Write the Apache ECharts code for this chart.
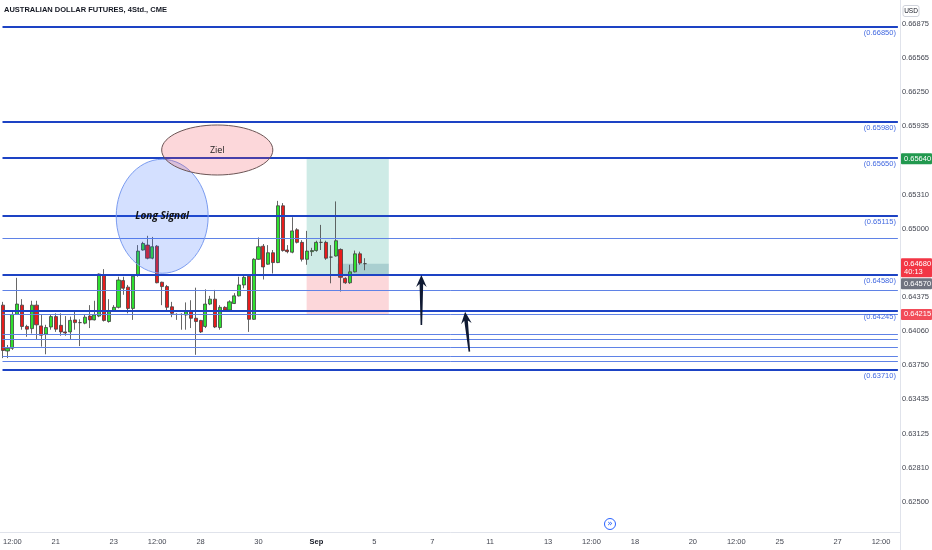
<!DOCTYPE html>
<html>
<head>
<meta charset="utf-8">
<script src="https://cdn.jsdelivr.net/npm/echarts/dist/echarts.min.js"></script>
<style>html,body{margin:0;padding:0;background:#fff}#c{width:932px;height:550px}</style>
</head>
<body>
<div id="c"></div>
<script>
const FONT = "'Liberation Sans Narrow','Arial Narrow','Liberation Sans',Arial,sans-serif";
const AXIS_COLOR = '#434651';

// ---- data ----
const opens  = [0.64300,0.63880,0.63905,0.64215,0.64300,0.64105,0.64085,0.64300,0.64110,0.64035,
                0.64100,0.64195,0.64115,0.64055,0.64055,0.64165,0.64140,0.64135,0.64200,0.64165,
                0.64200,0.64575,0.64150,0.64245,0.64280,0.64525,0.64465,0.64270,0.64575,0.64805,
                0.64850,0.64730,0.64840,0.64510,0.64470,0.64285,0.64215,0.64215,0.64210,0.64250,
                0.64180,0.64160,0.64105,0.64310,0.64355,0.64095,0.64280,0.64255,0.64315,0.64385,
                0.64485,0.64565,0.64170,0.64720,0.64840,0.64675,0.64780,0.64690,0.65210,0.64805,
                0.64785,0.64990,0.64875,0.64720,0.64790,0.64800,0.64875,0.64875,0.64740,0.64750,
                0.64810,0.64545,0.64505,0.64605,0.64770,0.64680];
const closes = [0.63885,0.63905,0.64215,0.64310,0.64105,0.64080,0.64300,0.64120,0.64025,0.64095,
                0.64195,0.64080,0.64055,0.64045,0.64160,0.64140,0.64140,0.64190,0.64165,0.64210,
                0.64585,0.64160,0.64245,0.64280,0.64530,0.64455,0.64270,0.64565,0.64795,0.64865,
                0.64730,0.64835,0.64505,0.64470,0.64280,0.64225,0.64215,0.64215,0.64240,0.64180,
                0.64150,0.64055,0.64310,0.64355,0.64100,0.64280,0.64255,0.64330,0.64385,0.64485,
                0.64555,0.64170,0.64720,0.64835,0.64650,0.64780,0.64690,0.65210,0.64800,0.64790,
                0.64980,0.64875,0.64720,0.64795,0.64800,0.64875,0.64875,0.64730,0.64740,0.64890,
                0.64555,0.64505,0.64605,0.64770,0.64685,0.64680];
const lows   = [0.63815,0.63815,0.63890,0.64215,0.64075,0.64010,0.64040,0.63990,0.63920,0.63850,
                0.64075,0.64055,0.64020,0.64020,0.63990,0.64075,0.63925,0.64125,0.64090,0.64160,
                0.64190,0.64150,0.64140,0.64240,0.64270,0.64395,0.64225,0.64165,0.64560,0.64800,
                0.64720,0.64720,0.64500,0.64300,0.64255,0.64190,0.64165,0.64075,0.64075,0.64090,
                0.63845,0.64045,0.64090,0.64300,0.64090,0.64075,0.64250,0.64240,0.64310,0.64380,
                0.64455,0.64055,0.64165,0.64715,0.64535,0.64670,0.64590,0.64685,0.64790,0.64775,
                0.64775,0.64865,0.64700,0.64670,0.64750,0.64790,0.64805,0.64715,0.64500,0.64745,
                0.64425,0.64495,0.64495,0.64600,0.64670,0.64620];
const highs  = [0.64330,0.63935,0.64240,0.64550,0.64355,0.64120,0.64340,0.64340,0.64210,0.64120,
                0.64210,0.64225,0.64225,0.64200,0.64195,0.64255,0.64170,0.64210,0.64300,0.64340,
                0.64590,0.64630,0.64355,0.64300,0.64560,0.64560,0.64485,0.64575,0.64850,0.64880,
                0.64935,0.64925,0.64850,0.64515,0.64485,0.64330,0.64225,0.64225,0.64325,0.64345,
                0.64460,0.64165,0.64445,0.64385,0.64440,0.64300,0.64290,0.64345,0.64410,0.64560,
                0.64575,0.64585,0.64730,0.64920,0.64860,0.64850,0.64805,0.65255,0.65235,0.64850,
                0.65105,0.65005,0.64895,0.64980,0.64825,0.64890,0.65035,0.64890,0.64850,0.65250,
                0.64820,0.64555,0.64670,0.64800,0.64790,0.64730];

const levelsMajor = [0.66850, 0.65980, 0.65650, 0.65115, 0.64580, 0.64245, 0.63710];
const levelsMinor = [0.64910, 0.64440, 0.64215, 0.64035, 0.63990, 0.63915, 0.63835, 0.63785];

// bar index -> date/time label
const xTickBars   = [2, 11, 23, 32, 41, 53, 65, 77, 89, 101, 113, 122, 131, 143, 152, 161, 173, 182];
const xTickLabels = ['12:00','21','23','12:00','28','30','Sep','5','7','11','13','12:00','18','20','12:00','25','27','12:00'];
// price-scale labels, from 0.62500 upward in steps of 0.003125 ('' = hidden behind a price tag)
const yTickLabels = ['0.62500','0.62810','0.63125','0.63435','0.63750','0.64060','0.64375','',
                     '0.65000','0.65310','','0.65935','0.66250','0.66565','0.66875'];

const X_MIN = -0.041, X_MAX = 185.49;

const positionTool = {target: 0.65650, entry: 0.64570, stop: 0.64220, last: 0.64680,
                      startBar: 62.98, endBar: 80.0, fillFromBar: 69.4};

const priceTags = [
  {price: 0.65640, text: '0.65640', bg: '#22994f', shift: 0},
  {price: 0.64680, text: '0.64680', sub: '40:13', bg: '#f23645', shift: 0},
  {price: 0.64570, text: '0.64570', bg: '#707380', shift: 8},
  {price: 0.64215, text: '0.64215', bg: '#f24c59', shift: 0}
];

const zielBox   = {x0: 32.94, x1: 55.97, yTop: 0.65950, yBot: 0.65492, text: 'Ziel'};
const signalBox = {x0: 23.52, x1: 42.57, yTop: 0.65636, yBot: 0.64592, text: 'Long Signal'};
const arrows = [
  {tip: [86.75, 0.64576], tail: [86.75, 0.64118]},
  {tip: [95.81, 0.64240], tail: [96.70, 0.63874]}
];

// ---- chart ----
const chart = echarts.init(document.getElementById('c'), null, {renderer: 'canvas'});
const candleData = opens.map((o, i) => [i, o, closes[i], lows[i], highs[i]]);

const levelLine = (v, major) => [
  {xAxis: X_MIN, yAxis: v,
   lineStyle: major ? {color: '#1d43c4', width: 2, type: 'solid'} : {color: '#5f82e6', width: 1, type: 'solid'},
   label: major ? {show: true, position: 'insideEndBottom', distance: 2,
                   formatter: '(' + v.toFixed(5) + ')', color: '#4168e0',
                   fontSize: 7.5, fontFamily: FONT} : {show: false}},
  {xAxis: X_MAX, yAxis: v}
];

const option = {
  animation: false,
  backgroundColor: '#ffffff',
  grid: {left: 0, right: 32, top: 0, bottom: 14.2, containLabel: false},
  xAxis: {
    type: 'value', min: X_MIN, max: X_MAX,
    axisLine: {show: false}, axisTick: {show: false}, splitLine: {show: false},
    axisLabel: {
      customValues: xTickBars,
      margin: 2, fontSize: 7.5, fontFamily: FONT, color: AXIS_COLOR,
      formatter: v => {
        const k = xTickBars.indexOf(Math.round(v));
        if (k < 0) return '';
        const t = xTickLabels[k];
        return t === 'Sep' ? '{b|Sep}' : t;
      },
      rich: {b: {fontWeight: 'bold', fontSize: 7.5, fontFamily: FONT, color: '#131722'}}
    }
  },
  yAxis: {
    type: 'value', position: 'right', scale: false,
    min: 0.621875, max: 0.670948, interval: 0.003125,
    axisLine: {show: false}, axisTick: {show: false}, splitLine: {show: false},
    axisLabel: {
      margin: 4, fontSize: 7.5, fontFamily: FONT, color: AXIS_COLOR,
      showMinLabel: false, showMaxLabel: false,
      formatter: v => {
        const k = Math.round((v - 0.625) / 0.003125);
        return (k >= 0 && k < yTickLabels.length) ? yTickLabels[k] : '';
      }
    }
  },
  series: [{
    type: 'candlestick',
    data: candleData,
    encode: {x: 0, y: [1, 2, 3, 4]},
    barWidth: 3.6,
    itemStyle: {
      color: '#2fe02f', color0: '#e81c1c',
      borderColor: '#404040', borderColor0: '#404040', borderColorDoji: '#404040',
      borderWidth: 0.8
    },
    emphasis: {disabled: true},
    markLine: {
      silent: true, symbol: ['none', 'none'], animation: false, precision: 6,
      emphasis: {disabled: true},
      data: levelsMajor.map(v => levelLine(v, true)).concat(levelsMinor.map(v => levelLine(v, false)))
    },
    markArea: {
      silent: true, emphasis: {disabled: true},
      data: [
        [{xAxis: positionTool.startBar, yAxis: positionTool.target, itemStyle: {color: 'rgba(8,153,129,0.2)'}},
         {xAxis: positionTool.endBar, yAxis: positionTool.entry}],
        [{xAxis: positionTool.startBar, yAxis: positionTool.entry, itemStyle: {color: 'rgba(242,54,69,0.2)'}},
         {xAxis: positionTool.endBar, yAxis: positionTool.stop}],
        [{xAxis: positionTool.fillFromBar, yAxis: positionTool.last, itemStyle: {color: 'rgba(40,110,130,0.22)'}},
         {xAxis: positionTool.endBar, yAxis: positionTool.entry}]
      ]
    }
  }]
};
chart.setOption(option);

// ---- annotations / chrome ----
const toPx = (x, y) => chart.convertToPixel({gridIndex: 0}, [x, y]);
const toY = p => chart.convertToPixel({yAxisIndex: 0}, p);
const g = [];

g.push({type: 'line', z: 50, shape: {x1: 900.5, y1: 0, x2: 900.5, y2: 550}, style: {stroke: '#e0e3eb', lineWidth: 1}});
g.push({type: 'line', z: 50, shape: {x1: 0, y1: 532.5, x2: 900.5, y2: 532.5}, style: {stroke: '#e0e3eb', lineWidth: 1}});

g.push({type: 'text', z: 60, x: 4, y: 10,
  style: {text: 'AUSTRALIAN DOLLAR FUTURES, 4Std., CME', fontSize: 7.5, fontFamily: FONT,
          fontWeight: 'bold', fill: '#131722', align: 'left', verticalAlign: 'middle'}});

g.push({type: 'rect', z: 60, shape: {x: 903, y: 5.5, width: 16, height: 11, r: 2},
  style: {fill: '#fff', stroke: '#d1d4dc', lineWidth: 1}});
g.push({type: 'text', z: 61, x: 911, y: 11,
  style: {text: 'USD', fontSize: 6.5, fontFamily: FONT, fill: '#131722', align: 'center', verticalAlign: 'middle'}});

priceTags.forEach(t => {
  const cy = toY(t.price) + t.shift;
  const h = t.sub ? 19 : 11;
  const top = cy - 5.5;
  g.push({type: 'rect', z: 70, shape: {x: 901, y: top, width: 31, height: h, r: 1}, style: {fill: t.bg}});
  g.push({type: 'text', z: 71, x: 904, y: cy,
    style: {text: t.text, fontSize: 7.5, fontFamily: FONT, fill: '#fff', align: 'left', verticalAlign: 'middle'}});
  if (t.sub) g.push({type: 'text', z: 71, x: 904, y: cy + 8.5,
    style: {text: t.sub, fontSize: 7.5, fontFamily: FONT, fill: '#fff', align: 'left', verticalAlign: 'middle'}});
});

function ellipseFrom(box) {
  const a = toPx(box.x0, box.yTop), b = toPx(box.x1, box.yBot);
  return {cx: (a[0] + b[0]) / 2, cy: (a[1] + b[1]) / 2, rx: Math.abs(b[0] - a[0]) / 2, ry: Math.abs(b[1] - a[1]) / 2};
}
const es = ellipseFrom(signalBox);
g.push({type: 'ellipse', z: 30, shape: es, style: {fill: 'rgba(41,98,255,0.2)', stroke: '#7b9cf0', lineWidth: 1}});
g.push({type: 'text', z: 31, x: es.cx, y: es.cy,
  style: {text: signalBox.text, fontSize: 10, fontFamily: "'Open Sans',sans-serif", fontStyle: 'italic',
          fontWeight: 'bold', fill: '#111', align: 'center', verticalAlign: 'middle'}});
const ez = ellipseFrom(zielBox);
g.push({type: 'ellipse', z: 32, shape: ez, style: {fill: 'rgba(242,54,69,0.2)', stroke: '#6b5555', lineWidth: 1}});
g.push({type: 'text', z: 33, x: ez.cx, y: ez.cy,
  style: {text: zielBox.text, fontSize: 9, fontFamily: "'Open Sans',sans-serif",
          fill: '#222', align: 'center', verticalAlign: 'middle'}});

arrows.forEach(a => {
  const tip = toPx(a.tip[0], a.tip[1]);
  const tail = toPx(a.tail[0], a.tail[1]);
  let dx = tail[0] - tip[0], dy = tail[1] - tip[1];
  const len = Math.hypot(dx, dy); dx /= len; dy /= len;
  const nx = -dy, ny = dx;
  const P = (d, n) => [tip[0] + dx * d + nx * n, tip[1] + dy * d + ny * n];
  const pts = [tip, P(12, 5.3), P(9, 1.8), [tail[0] + nx * 0.8, tail[1] + ny * 0.8],
               [tail[0] - nx * 0.8, tail[1] - ny * 0.8], P(9, -1.8), P(12, -5.3)];
  g.push({type: 'polygon', z: 80, shape: {points: pts}, style: {fill: '#101a33'}});
});

g.push({type: 'circle', z: 60, shape: {cx: 610, cy: 524, r: 5.5}, style: {fill: '#fff', stroke: '#2962ff', lineWidth: 1}});
g.push({type: 'text', z: 61, x: 610, y: 523.5,
  style: {text: '»', fontSize: 9, fontFamily: 'DejaVu Sans', fill: '#2962ff', align: 'center', verticalAlign: 'middle'}});

chart.setOption({graphic: {elements: g}});
</script>
</body>
</html>
